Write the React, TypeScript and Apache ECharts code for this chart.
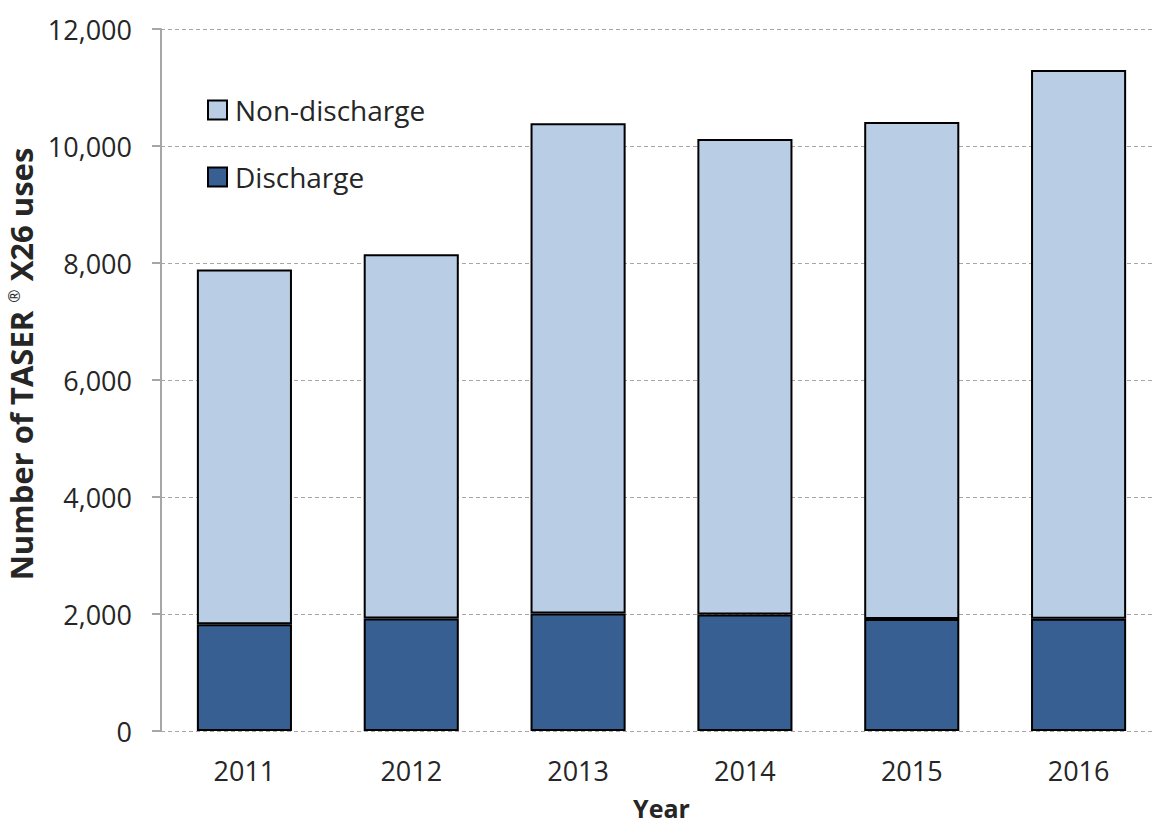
import React, { useEffect, useRef } from "react";
import * as echarts from "echarts";

const years = ["2011", "2012", "2013", "2014", "2015", "2016"];
const discharge = [1823, 1925, 2010, 1993, 1915, 1920];
const totals = [7890, 8150, 10390, 10120, 10410, 11300];
const nonDischarge = totals.map((t, i) => t - discharge[i]);
const yTicks = [0, 2000, 4000, 6000, 8000, 10000, 12000];

const FONT = "'Open Sans', 'Noto Sans', sans-serif";
const TXT = "#262626";

export default function App() {
  const ref = useRef<HTMLDivElement>(null);
  useEffect(() => {
    document.body.style.margin = "0";
    const chart = echarts.init(ref.current!, null, { renderer: "svg" });
    chart.setOption({
      animation: false,
      backgroundColor: "#ffffff",
      textStyle: { fontFamily: FONT },
      grid: { left: 161, right: -10, top: 29, bottom: 96, outerBoundsMode: "none" },
      legend: {
        orient: "vertical",
        left: 202,
        top: 91,
        itemGap: 39,
        itemWidth: 19,
        itemHeight: 19,
        icon: "rect",
        data: ["Non-discharge", "Discharge"],
        textStyle: { fontSize: 28, color: TXT, fontFamily: FONT, padding: [0, 0, 0, 3] },
      },
      xAxis: {
        type: "category",
        data: years,
        name: "Year",
        nameLocation: "middle",
        nameGap: 64,
        nameTextStyle: { fontSize: 25, fontWeight: "bold", color: TXT, fontFamily: FONT },
        axisLine: { show: false },
        axisTick: { show: false },
        axisLabel: { fontSize: 27, color: TXT, margin: 26, fontFamily: FONT },
      },
      yAxis: {
        type: "value",
        min: yTicks[0],
        max: yTicks[yTicks.length - 1],
        interval: 2000,
        name: "Number of TASER {sup|®} X26 uses",
        nameLocation: "middle",
        nameGap: 121,
        nameTextStyle: {
          fontSize: 31,
          fontWeight: "bold",
          color: TXT,
          fontFamily: FONT,
          padding: [0, 0, 0, 32],
          rich: {
            sup: { fontSize: 16, fontWeight: "normal", color: TXT, fontFamily: FONT, verticalAlign: "top", padding: [0, 0, 10, 0] },
          },
        },
        axisLine: { show: true, lineStyle: { color: "#a6a6a6", width: 2 } },
        axisTick: { show: true, length: 9, lineStyle: { color: "#a6a6a6", width: 2 } },
        axisLabel: {
          fontSize: 27,
          color: TXT,
          margin: 29,
          fontFamily: FONT,
          formatter: (v: number) => v.toLocaleString("en-US"),
        },
        splitLine: { show: true, lineStyle: { color: "#a6a6a6", type: [4, 3], width: 1 } },
      },
      series: [
        {
          name: "Discharge",
          type: "bar",
          stack: "total",
          data: discharge,
          barWidth: "57%",
          itemStyle: { color: "#375f91", borderColor: "#000", borderWidth: 2 },
        },
        {
          name: "Non-discharge",
          type: "bar",
          stack: "total",
          data: nonDischarge,
          barWidth: "57%",
          itemStyle: { color: "#b9cde5", borderColor: "#000", borderWidth: 2 },
        },
      ],
    });
    return () => chart.dispose();
  }, []);
  return <div ref={ref} style={{ width: 1152, height: 827 }} />;
}
